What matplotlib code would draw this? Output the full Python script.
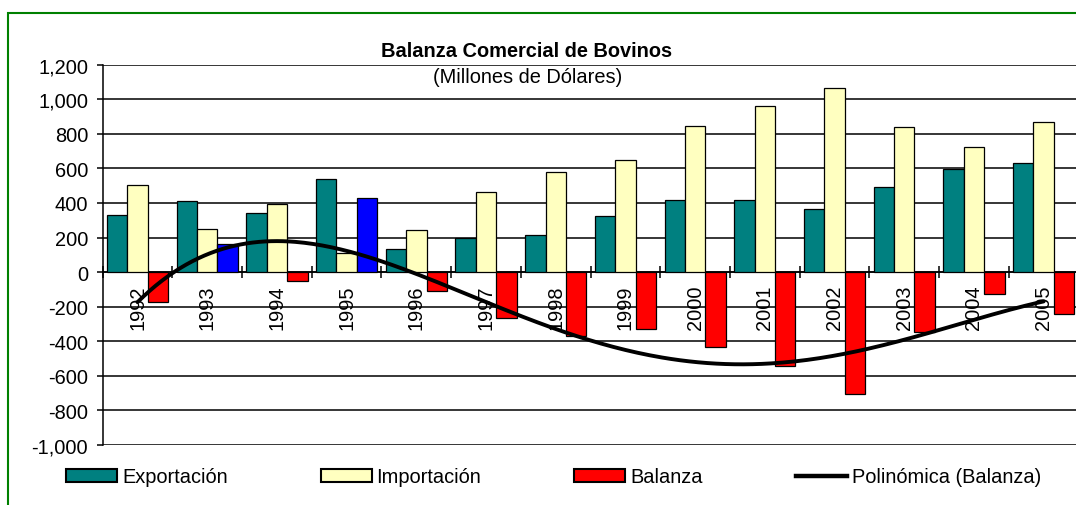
import numpy as np
import matplotlib
matplotlib.use("Agg")
import matplotlib.pyplot as plt
from matplotlib.patches import Patch, Rectangle
from matplotlib.lines import Line2D
from matplotlib.ticker import FuncFormatter, FixedLocator

plt.rcParams["font.family"] = ["Liberation Sans", "DejaVu Sans"]

years = ["1992", "1993", "1994", "1995", "1996", "1997", "1998",
         "1999", "2000", "2001", "2002", "2003", "2004", "2005"]
exportacion = [330, 414, 343, 536, 132, 199, 212, 324, 416, 420, 363, 492, 594, 632]
importacion = [503, 251, 393, 108, 241, 465, 582, 651, 848, 963, 1067, 840, 722, 871]
balanza = [-173, 163, -51, 428, -109, -267, -371, -328, -434, -543, -705, -344, -126, -240]

TEAL = "#008080"
CREAM = "#FFFFC0"
RED = "#FF0000"
BLUE = "#0000FF"
FS = 14.4

fig = plt.figure(figsize=(10.76, 5.06), dpi=100)
fig.patches.append(Rectangle((7.5 / 1076, -0.1), 1.2, 1.1 - 14 / 506,
                             transform=fig.transFigure, fill=False,
                             edgecolor="#008000", linewidth=1.5))

ax = fig.add_axes([102.7 / 1076, 1 - 446 / 506, 975.8 / 1076, 380.3 / 506])

x = np.arange(len(years)) + 0.5
w = 0.293
bal_colors = [BLUE if v > 0 else RED for v in balanza]

ax.bar(x - w, exportacion, w, color=TEAL, edgecolor="black", linewidth=0.9, zorder=3)
ax.bar(x, importacion, w, color=CREAM, edgecolor="black", linewidth=0.9, zorder=3)
ax.bar(x + w, balanza, w, color=bal_colors, edgecolor="black", linewidth=0.9, zorder=3)

# 4th order polynomial trendline of the balance series
coef = np.polyfit(x, balanza, 4)
xs = np.linspace(x[0], x[-1], 300)
ax.plot(xs, np.polyval(coef, xs), color="black", linewidth=2.8, zorder=5,
        solid_capstyle="round")

ax.set_xlim(0, len(years))
ax.set_ylim(-1000, 1200)
ax.set_yticks(np.arange(-1000, 1201, 200))
ax.yaxis.set_major_formatter(FuncFormatter(lambda v, p: f"{int(v):,}"))
ax.grid(axis="y", color="black", linewidth=1.1, zorder=0)
ax.set_axisbelow(True)

for s in ["top", "right"]:
    ax.spines[s].set_visible(False)
ax.spines["left"].set_linewidth(1.1)
ax.spines["bottom"].set_position(("data", 0))
ax.spines["bottom"].set_linewidth(1.1)
ax.spines["bottom"].set_zorder(2)

ax.xaxis.set_major_locator(FixedLocator(np.arange(0, len(years) + 1)))
ax.xaxis.set_minor_locator(FixedLocator(x))
ax.set_xticklabels([], minor=False)
ax.set_xticklabels(years, minor=True, rotation=90, fontsize=FS)
ax.tick_params(axis="x", which="major", direction="inout", length=9, width=1.1)
ax.tick_params(axis="x", which="minor", length=0, pad=9)
ax.tick_params(axis="y", direction="out", length=4.5, width=1.1, labelsize=FS, pad=6)

fig.text(0.4895, 1 - 57 / 506, "Balanza Comercial de Bovinos", ha="center",
         va="baseline", fontsize=FS, fontweight="bold")
fig.text(0.4907, 1 - 83 / 506, "(Millones de Dólares)", ha="center",
         va="baseline", fontsize=FS)

handles = [
    Patch(facecolor=TEAL, edgecolor="black", linewidth=1.5),
    Patch(facecolor=CREAM, edgecolor="black", linewidth=1.5),
    Patch(facecolor=RED, edgecolor="black", linewidth=1.5),
    Line2D([], [], color="black", linewidth=3.2),
]
labels = ["Exportación", "Importación", "Balanza", "Polinómica (Balanza)"]
fig.legend(handles, labels, loc="center left", bbox_to_anchor=(66 / 1076, 1 - 478 / 506),
           ncol=4, frameon=False, fontsize=FS, borderpad=0, borderaxespad=0,
           handlelength=2.55, handleheight=0.675, handletextpad=0.25,
           columnspacing=4.65)

fig.savefig("out.png", dpi=100)
